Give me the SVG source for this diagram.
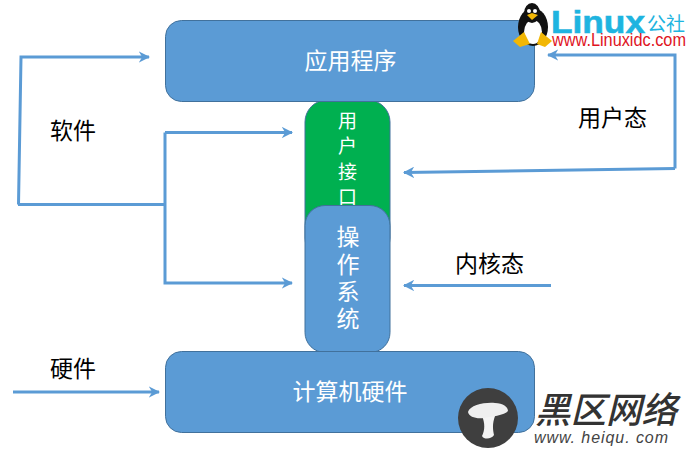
<svg xmlns="http://www.w3.org/2000/svg" width="690" height="454" viewBox="0 0 690 454">
<style>
.box{fill:#5b9bd5;stroke:#41719c;stroke-width:1}
.c{fill:none;stroke:#5b9bd5;stroke-width:3}
text{font-family:"Noto Sans CJK SC","Liberation Sans",sans-serif}
.w{fill:#fff;text-anchor:middle}
.k{fill:#000;font-size:23px}
.lat{font-family:"Liberation Sans",sans-serif}
</style>
<defs>
<marker id="a" viewBox="0 0 10 10" refX="9" refY="5" markerWidth="3.8" markerHeight="3.8" orient="auto"><path d="M0 0L10 5L0 10L3 5Z" fill="#5b9bd5"/></marker>
</defs>
<rect width="690" height="454" fill="#fff"/>
<g id="node-ui">
<rect x="305" y="100" width="85" height="160" rx="22" fill="#00b050" stroke="#41719c"/>
<text class="w" x="347.500" y="128" font-size="19">用</text>
<text class="w" x="347.500" y="153" font-size="19">户</text>
<text class="w" x="347.500" y="179" font-size="19">接</text>
<text class="w" x="347.500" y="204" font-size="19">口</text>
</g>
<g id="node-app">
<rect class="box" x="165.500" y="20.500" width="369" height="81" rx="16"/>
<text class="w" x="350.500" y="69" font-size="23">应用程序</text>
</g>
<g id="node-os">
<rect class="box" x="305" y="205.500" width="85" height="147" rx="20"/>
<text class="w" x="348" y="245" font-size="23">操</text>
<text class="w" x="348" y="273" font-size="23">作</text>
<text class="w" x="348" y="300" font-size="23">系</text>
<text class="w" x="348" y="327" font-size="23">统</text>
</g>
<g id="node-hw">
<rect class="box" x="165.500" y="351.500" width="369" height="81" rx="16"/>
<text class="w" x="350" y="400" font-size="23">计算机硬件</text>
</g>
<g id="connectors">
<path class="c" marker-end="url(#a)" d="M165 132.500H292"/>
<path class="c" marker-end="url(#a)" d="M165 132.500V283H292"/>
<path class="c" d="M18 204.500H165"/>
<path class="c" marker-end="url(#a)" d="M18.500 204.500L21 57H149"/>
<path class="c" marker-end="url(#a)" d="M675 168.500L404 172.500"/>
<path class="c" marker-end="url(#a)" d="M675 168.500V55H548"/>
<path class="c" marker-end="url(#a)" d="M551 285.500H404"/>
<path class="c" marker-end="url(#a)" d="M13 392H159"/>
</g>
<g id="labels">
<text class="k" x="50" y="139">软件</text>
<text class="k" x="50" y="377">硬件</text>
<text class="k" x="578" y="126">用户态</text>
<text class="k" x="455" y="272">内核态</text>
</g>
<g id="logo-linux">
<ellipse cx="533" cy="27" rx="15" ry="19" fill="#111"/>
<ellipse cx="533" cy="32" rx="9" ry="12" fill="#fff"/>
<ellipse cx="532" cy="13" rx="8" ry="10" fill="#111"/>
<circle cx="529" cy="11" r="2" fill="#fff"/><circle cx="535" cy="11" r="2" fill="#fff"/>
<path d="M527 15L532 13L538 15L532 20Z" fill="#f2b705"/>
<path d="M513 41L524 32L530 44L520 47Z" fill="#f2b705"/>
<path d="M537 44L541 32L552 41L545 47Z" fill="#f2b705"/>
<text class="lat" x="551" y="33" font-size="32" font-weight="700" fill="#1eb4e0" stroke="#1eb4e0" stroke-width=".6" textLength="94" lengthAdjust="spacingAndGlyphs">Linux</text>
<text x="647" y="31" font-size="19" fill="#1eb4e0">公社</text>
<text class="lat" x="552" y="46" font-size="18" fill="#e0141e" textLength="134" lengthAdjust="spacingAndGlyphs">www.Linuxidc.com</text>
</g>
<g id="logo-heiqu">
<circle cx="488" cy="418" r="30" fill="#3f3f3f"/>
<path d="M482 416H495C492 424 493 430 494 435C492 439 484 440 482 436C485 430 485 423 482 416Z" fill="#f4f4f4"/>
<path d="M468 412C470 405 485 402 495 403C503 403 508 407 508 411C505 415 490 417 484 418C476 419 469 417 468 412Z" fill="#efefef"/>
<text x="535" y="423" font-size="36" font-weight="500" font-style="italic" fill="#333" textLength="142" lengthAdjust="spacingAndGlyphs">黑区网络</text>
<text class="lat" x="534" y="443" font-size="16" font-style="italic" fill="#444" textLength="134">www. heiqu. com</text>
</g>
</svg>
